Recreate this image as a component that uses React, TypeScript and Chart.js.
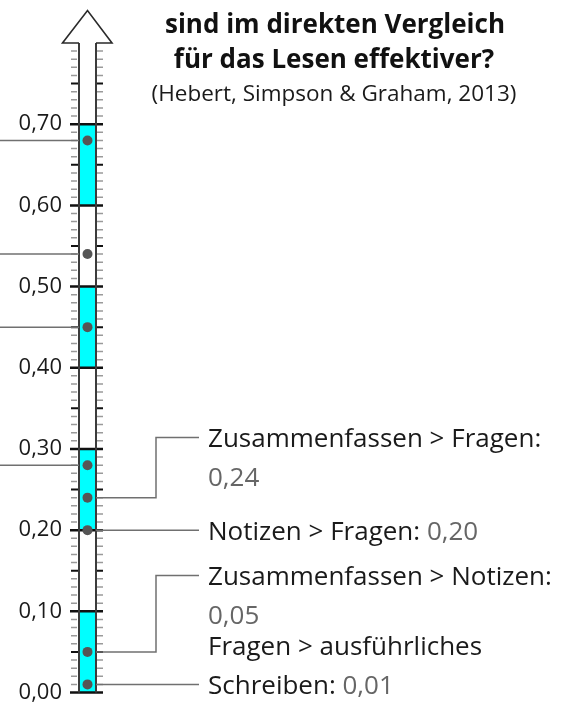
import React, { useEffect, useRef } from "react";
import { Chart, registerables } from "chart.js";

Chart.register(...registerables);

// ---- data ----
const categories = ["Effektstärke"];
const effectValues = [0.68, 0.54, 0.45, 0.28, 0.24, 0.2, 0.05, 0.01];
const leftLeaderValues = [0.68, 0.54, 0.45, 0.28];
const bandStarts = [0.0, 0.2, 0.4, 0.6];
const bandEnds = [0.1, 0.3, 0.5, 0.7];
const yTickValues = [0, 0.1, 0.2, 0.3, 0.4, 0.5, 0.6, 0.7];
const annotatedValues = [0.24, 0.2, 0.05, 0.01];
const annotationLines = [
  ["Zusammenfassen > Fragen:", ""],
  ["Notizen > Fragen: "],
  ["Zusammenfassen > Notizen:", ""],
  ["Fragen > ausführliches", "Schreiben: "],
];
const titleLines = ["sind im direkten Vergleich", "für das Lesen effektiver?"];
const sourceLine = "(Hebert, Simpson & Graham, 2013)";
const axisMax = 0.8;
const arrowTipValue = 0.84;

// ---- layout (not data) ----
const W = 568;
const H = 702;
const leaderTargets = [0.314, 0.2, 0.144, 0.01];
const leaderLineIndex = [0, 0, 0, 1];
const ELBOW_X = 156;
const LEADER_END_X = 199;
const TEXT_X = 208;
const LINE_GAP = 39;
const FONT = "'Open Sans', 'DejaVu Sans', sans-serif";

const fmt = (v: number) => v.toFixed(2).replace(".", ",");

const thermometerPlugin = {
  id: "thermometer",
  beforeDatasetDraw(chart: any, args: any) {
    if (args.meta.type !== "line") return;
    const { ctx, chartArea } = chart;
    const { left, right, top, bottom } = chartArea;
    const y = chart.scales.y;
    const cx = (left + right) / 2;
    ctx.save();
    ctx.lineCap = "butt";
    // ticks
    for (let i = 0; i < 80; i++) {
      const py = y.getPixelForValue(i / 100);
      ctx.beginPath();
      if (i % 10 === 0) {
        ctx.strokeStyle = "#111";
        ctx.lineWidth = 2.5;
        ctx.moveTo(left - 9, py);
        ctx.lineTo(right + 7, py);
      } else if (i % 5 === 0) {
        ctx.strokeStyle = "#111";
        ctx.lineWidth = 2;
        ctx.moveTo(left - 8, py);
        ctx.lineTo(left, py);
        ctx.moveTo(right, py);
        ctx.lineTo(right + 7, py);
      } else {
        ctx.strokeStyle = "#9a9a9a";
        ctx.lineWidth = 1.5;
        ctx.moveTo(left - 8, py);
        ctx.lineTo(left - 2, py);
        ctx.moveTo(right + 1, py);
        ctx.lineTo(right + 7, py);
      }
      ctx.stroke();
    }
    // column borders
    ctx.strokeStyle = "#3c3c3c";
    ctx.lineWidth = 2;
    ctx.beginPath();
    ctx.moveTo(left, bottom);
    ctx.lineTo(left, top);
    ctx.moveTo(right, bottom);
    ctx.lineTo(right, top);
    ctx.stroke();
    // arrow head
    const tipY = y.getPixelForValue(arrowTipValue);
    ctx.beginPath();
    ctx.moveTo(left, top);
    ctx.lineTo(left - 16.5, top);
    ctx.lineTo(cx, tipY);
    ctx.lineTo(right + 16, top);
    ctx.lineTo(right, top);
    ctx.fillStyle = "#fff";
    ctx.fill();
    ctx.lineJoin = "miter";
    ctx.lineWidth = 1.6;
    ctx.strokeStyle = "#2a2a2a";
    ctx.stroke();

    // leaders
    ctx.strokeStyle = "#707070";
    ctx.lineWidth = 1.5;
    leftLeaderValues.forEach((v) => {
      const py = y.getPixelForValue(v);
      ctx.beginPath();
      ctx.moveTo(0, py);
      ctx.lineTo(left, py);
      ctx.stroke();
    });
    annotatedValues.forEach((v, k) => {
      const py = y.getPixelForValue(v);
      const ty = y.getPixelForValue(leaderTargets[k]);
      ctx.beginPath();
      ctx.moveTo(right, py);
      if (Math.abs(ty - py) > 1) {
        ctx.lineTo(ELBOW_X, py);
        ctx.lineTo(ELBOW_X, ty);
        ctx.lineTo(LEADER_END_X, ty);
      } else {
        ctx.lineTo(LEADER_END_X, py);
      }
      ctx.stroke();
    });
    ctx.restore();
  },
  afterDraw(chart: any) {
    const { ctx } = chart;
    const y = chart.scales.y;
    ctx.save();
    ctx.textBaseline = "alphabetic";
    // annotation labels
    ctx.font = `26px ${FONT}`;
    annotatedValues.forEach((v, k) => {
      const ty = y.getPixelForValue(leaderTargets[k]);
      const lines = annotationLines[k];
      lines.forEach((line, j) => {
        const ly = ty + (j - leaderLineIndex[k]) * LINE_GAP + 9.5;
        ctx.textAlign = "left";
        ctx.fillStyle = "#1a1a1a";
        ctx.fillText(line, TEXT_X, ly);
        if (j === lines.length - 1) {
          const w = ctx.measureText(line).width;
          ctx.fillStyle = "#666";
          ctx.fillText(fmt(v), TEXT_X + w, ly);
        }
      });
    });
    // title
    ctx.textAlign = "center";
    ctx.fillStyle = "#111";
    ctx.font = `bold 26px ${FONT}`;
    ctx.fillText(titleLines[0], 335, 33);
    ctx.fillText(titleLines[1], 334, 68);
    ctx.font = `22.5px ${FONT}`;
    ctx.fillStyle = "#1a1a1a";
    ctx.fillText(sourceLine, 334, 101);
    ctx.restore();
  },
};

export default function App() {
  const ref = useRef<HTMLCanvasElement | null>(null);
  useEffect(() => {
    if (!ref.current) return;
    const bandDatasets = bandStarts.map((s, i) => ({
      type: "bar" as const,
      label: `Band ${i + 1}`,
      data: [[s, bandEnds[i]]],
      backgroundColor: "#00ffff",
      borderWidth: 0,
      grouped: false,
      barPercentage: 1,
      categoryPercentage: 1,
      order: 1,
    }));
    const chart = new Chart(ref.current, {
      type: "bar",
      data: {
        labels: categories,
        datasets: [
          ...bandDatasets,
          {
            type: "line" as const,
            label: "Effektstärken",
            data: effectValues.map((v) => ({ x: categories[0], y: v })),
            showLine: false,
            pointRadius: 5,
            pointHoverRadius: 5,
            pointBackgroundColor: "#555",
            pointBorderWidth: 0,
            order: 0,
          } as any,
        ],
      },
      options: {
        responsive: false,
        animation: false,
        layout: { padding: { left: 0, right: W - 96, top: 43, bottom: 9.5 } },
        plugins: { legend: { display: false }, tooltip: { enabled: false }, title: { display: false } },
        scales: {
          x: { display: false, offset: true },
          y: {
            min: 0,
            max: axisMax,
            grid: { display: false, drawTicks: false, tickLength: 0 },
            border: { display: false },
            afterBuildTicks: (scale: any) => {
              scale.ticks = yTickValues.map((v) => ({ value: v }));
            },
            afterFit: (scale: any) => {
              scale.width = 79;
              scale.paddingTop = 0;
              scale.paddingBottom = 0;
            },
            ticks: {
              padding: 17,
              color: "#1a1a1a",
              font: { family: FONT, size: 22 },
              callback: (v: any) => fmt(Number(v)),
            },
          },
        },
      },
      plugins: [thermometerPlugin],
    });
    return () => chart.destroy();
  }, []);
  return (
    <div style={{ position: "absolute", left: 0, top: 0, width: W, height: H, background: "#fff" }}>
      <canvas ref={ref} width={W} height={H} style={{ display: "block" }} />
    </div>
  );
}
